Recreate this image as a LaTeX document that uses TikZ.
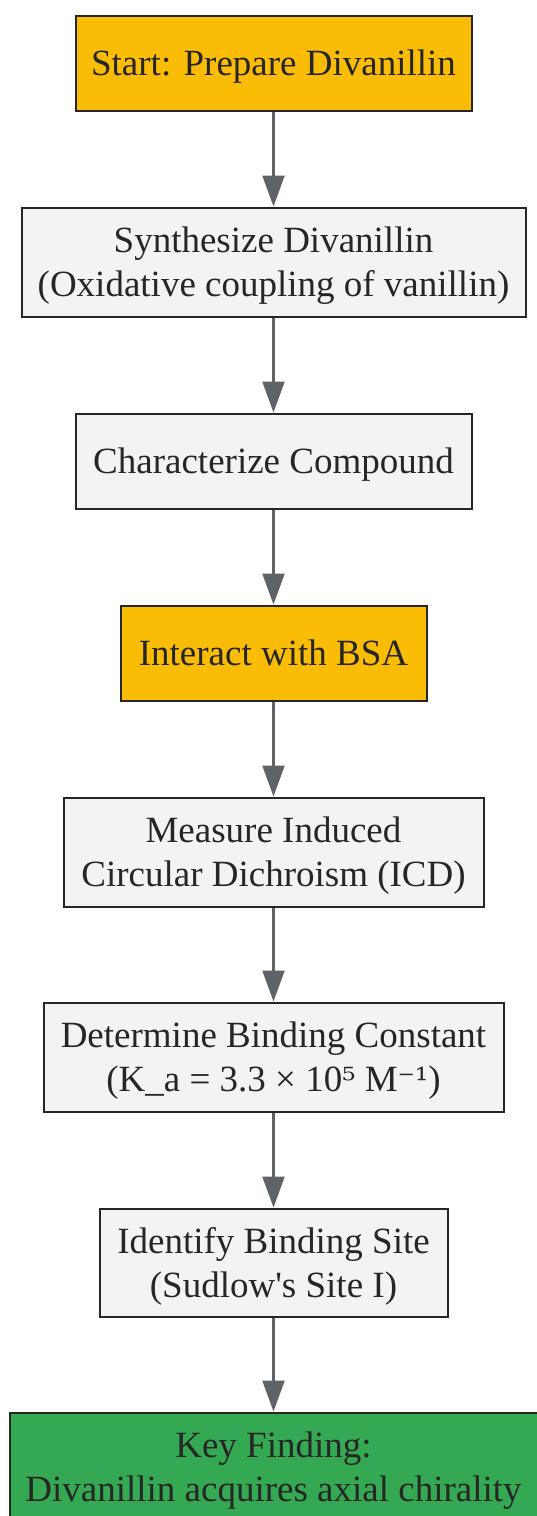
\documentclass[tikz,border=0pt]{standalone}
\usepackage{fontspec}
\setmainfont{Liberation Serif}
\newfontfamily\supfont{DejaVu Serif}
\usetikzlibrary{arrows.meta}
\definecolor{startorange}{HTML}{FBBC05}
\definecolor{stepgray}{HTML}{F1F3F5}
\definecolor{findgreen}{HTML}{34A853}
\definecolor{edgegray}{HTML}{5F6368}
\definecolor{txtdark}{HTML}{262626}
\tikzset{
  box/.style={draw=txtdark, line width=2pt, fill=stepgray, text=txtdark, align=center,
    inner sep=0pt, text depth=-4pt, font=\fontsize{37}{44}\selectfont},
  hot/.style={box, fill=startorange},
  final/.style={box, fill=findgreen},
  link/.style={draw=edgegray, line width=2.2pt, -{Triangle[width=22pt,length=31pt]}}
}
\begin{document}
\begin{tikzpicture}
                \useasboundingbox (0,0) rectangle (536pt,-1516pt);
                \node[hot, minimum width=396pt, minimum height=95pt] (start) at (273.5pt,-63pt) {Start: Prepare Divanillin};
                \node[box, minimum width=504pt, minimum height=109pt] (synth) at (273.5pt,-262pt) {Synthesize Divanillin\\(Oxidative coupling of vanillin)};
                \node[box, minimum width=396pt, minimum height=95pt] (charact) at (273.5pt,-461pt) {Characterize Compound};
                \node[hot, minimum width=306pt, minimum height=95pt] (bsa) at (273.5pt,-653pt) {Interact with BSA};
                \node[box, minimum width=420pt, minimum height=109pt] (icd) at (273.5pt,-852pt) {Measure Induced\\Circular Dichroism (ICD)};
                \node[box, minimum width=460pt, minimum height=109pt] (ka) at (273.5pt,-1057pt) {Determine Binding Constant\\(K\_a = 3.3 × 10{\supfont\fontsize{33}{33}\selectfont ⁵} M{\supfont\fontsize{33}{33}\selectfont ⁻¹})};
                \node[box, minimum width=348pt, minimum height=108pt] (site) at (273.5pt,-1262.5pt) {Identify Binding Site\\(Sudlow\textquotesingle s Site I)};
                \node[final, minimum width=528pt, minimum height=109pt] (key) at (273.5pt,-1467pt) {Key Finding:\\Divanillin acquires axial chirality};
                \draw[link] (start) -- (synth);
                \draw[link] (synth) -- (charact);
                \draw[link] (charact) -- (bsa);
                \draw[link] (bsa) -- (icd);
                \draw[link] (icd) -- (ka);
                \draw[link] (ka) -- (site);
                \draw[link] (site) -- (key);
            \end{tikzpicture}
\end{document}
